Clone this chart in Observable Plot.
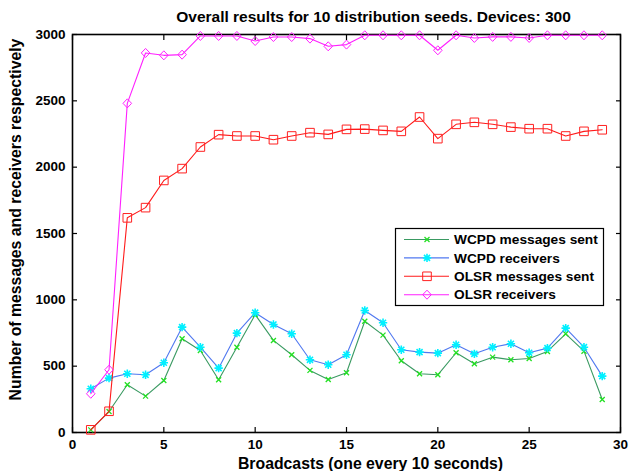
<!DOCTYPE html>
<html>
<head>
<meta charset="utf-8">
<script src="https://cdn.jsdelivr.net/npm/d3@7"></script>
<script src="https://cdn.jsdelivr.net/npm/@observablehq/plot@0.6"></script>
<style>
  html, body { margin: 0; padding: 0; background: white; }
  #chart { width: 642px; height: 471px; }
</style>
</head>
<body>
<div id="chart"></div>
<script>
const titleText = "Overall results for 10 distribution seeds. Devices: 300";
const xLabel = "Broadcasts (one every 10 seconds)";
const yLabel = "Number of messages and receivers respectively";
const xTicks = [0, 5, 10, 15, 20, 25, 30];
const yTicks = [0, 500, 1000, 1500, 2000, 2500, 3000];

const broadcasts = [1,2,3,4,5,6,7,8,9,10,11,12,13,14,15,16,17,18,19,20,21,22,23,24,25,26,27,28,29];
const wcpdSent = [20,158,360,274,392,707,618,397,643,888,694,586,468,400,450,839,734,541,443,435,601,518,568,548,558,611,744,613,249];
const wcpdRecv = [330,410,443,435,526,794,643,485,749,903,814,744,548,511,586,920,827,624,606,598,661,593,643,669,601,636,787,643,425];
const olsrSent = [20,160,1618,1695,1900,1989,2152,2245,2235,2235,2207,2235,2260,2247,2285,2287,2277,2270,2378,2215,2323,2338,2323,2302,2290,2290,2235,2270,2282];
const olsrRecv = [292,473,2481,2861,2843,2848,2989,2989,2989,2951,2981,2981,2969,2911,2924,2994,2994,2994,2994,2881,2994,2974,2982,2982,2974,2994,2994,2994,2994];
const seriesNames = ["WCPD messages sent", "WCPD receivers", "OLSR messages sent", "OLSR receivers"];

// custom marker shapes (r = half-width)
const half = size => Math.sqrt(size / Math.PI);
const symX = {draw(c, s) { const h = half(s); c.moveTo(-h,-h); c.lineTo(h,h); c.moveTo(-h,h); c.lineTo(h,-h); }};
const symStar = {draw(c, s) { const h = half(s), d = h * 0.72;
  c.moveTo(-h,0); c.lineTo(h,0); c.moveTo(0,-h); c.lineTo(0,h);
  c.moveTo(-d,-d); c.lineTo(d,d); c.moveTo(-d,d); c.lineTo(d,-d); }};
const symSquare = {draw(c, s) { const h = half(s); c.moveTo(-h,-h); c.lineTo(h,-h); c.lineTo(h,h); c.lineTo(-h,h); c.closePath(); }};
const symDiamond = {draw(c, s) { const h = half(s); c.moveTo(0,-h*1.05); c.lineTo(h,0); c.lineTo(0,h*1.05); c.lineTo(-h,0); c.closePath(); }};

const styles = [
  {line: "#3a9a62", marker: "#22e022", symbol: symX, r: 2.5, mw: 1.3},
  {line: "#5078f0", marker: "#00f0ff", symbol: symStar, r: 4.2, mw: 1.6},
  {line: "#ff1a1a", marker: "#ff2020", symbol: symSquare, r: 4.3, mw: 1},
  {line: "#ff20ff", marker: "#ff20ff", symbol: symDiamond, r: 4.3, mw: 1}
];
const values = [wcpdSent, wcpdRecv, olsrSent, olsrRecv];
const tables = values.map(vals => broadcasts.map((b, i) => ({x: b, y: vals[i]})));

const seriesMarks = tables.flatMap((t, k) => [
  Plot.line(t, {x: "x", y: "y", stroke: styles[k].line, strokeWidth: 1.1}),
  Plot.dot(t, {x: "x", y: "y", symbol: styles[k].symbol, r: styles[k].r, fill: "none", stroke: styles[k].marker, strokeWidth: styles[k].mw})
]);

const font = "'Liberation Sans', Arial, Helvetica, sans-serif";

const svg = Plot.plot({
  width: 642,
  height: 471,
  marginLeft: 72,
  marginRight: 22,
  marginTop: 34,
  marginBottom: 39,
  style: {fontFamily: font, fontSize: "13.5px", fontWeight: "bold", color: "black", background: "white"},
  x: {domain: [0, 30], ticks: xTicks},
  y: {domain: [0, 3000], ticks: yTicks},
  marks: [
    Plot.axisX({ticks: xTicks, tickSize: 0, tickPadding: 7, label: null, tickFormat: d => String(d)}),
    Plot.axisY({ticks: yTicks, tickSize: 0, tickPadding: 7, label: null, tickFormat: d => String(d)}),
    Plot.axisX({ticks: xTicks, anchor: "bottom", tickSize: -5, fill: "none", label: null, strokeWidth: 1.2}),
    Plot.axisX({ticks: xTicks, anchor: "top", tickSize: -5, fill: "none", label: null, strokeWidth: 1.2}),
    Plot.axisY({ticks: yTicks, anchor: "left", tickSize: -5, fill: "none", label: null, strokeWidth: 1.2}),
    Plot.axisY({ticks: yTicks, anchor: "right", tickSize: -5, fill: "none", label: null, strokeWidth: 1.2}),
    Plot.frame({stroke: "black", strokeWidth: 1.6}),
    ...seriesMarks,
    Plot.text([titleText], {frameAnchor: "top", dy: -17, dx: 27, lineAnchor: "middle", textAnchor: "middle", fontSize: 15.5, fontWeight: "bold"}),
    Plot.text([xLabel], {frameAnchor: "bottom", dy: 31, dx: 24, lineAnchor: "middle", textAnchor: "middle", fontSize: 15.8, fontWeight: "bold"}),
    Plot.text([yLabel], {frameAnchor: "left", dx: -57, dy: -14, rotate: -90, lineAnchor: "middle", textAnchor: "middle", fontSize: 15.8, fontWeight: "bold"})
  ]
});

// legend
const lg = d3.select(svg).append("g").attr("font-family", font).attr("font-size", 13.7)
  .attr("font-weight", "bold").attr("text-anchor", "start");
lg.append("rect").attr("x", 395.5).attr("y", 228.5).attr("width", 208).attr("height", 77)
  .attr("fill", "white").attr("stroke", "black").attr("stroke-width", 1.2);
seriesNames.forEach((name, i) => {
  const yy = 239.5 + i * 18.4;
  const s = styles[i];
  lg.append("line").attr("x1", 404).attr("x2", 449).attr("y1", yy).attr("y2", yy)
    .attr("stroke", s.line).attr("stroke-width", 1.1);
  lg.append("path").attr("d", d3.symbol(s.symbol, Math.PI * s.r * s.r)())
    .attr("transform", `translate(427,${yy})`).attr("fill", "none")
    .attr("stroke", s.marker).attr("stroke-width", s.mw);
  lg.append("text").attr("x", 454).attr("y", yy).attr("dy", "0.35em")
    .attr("text-anchor", "start").attr("fill", "black").text(name);
});

document.getElementById("chart").appendChild(svg);
</script>
</body>
</html>
